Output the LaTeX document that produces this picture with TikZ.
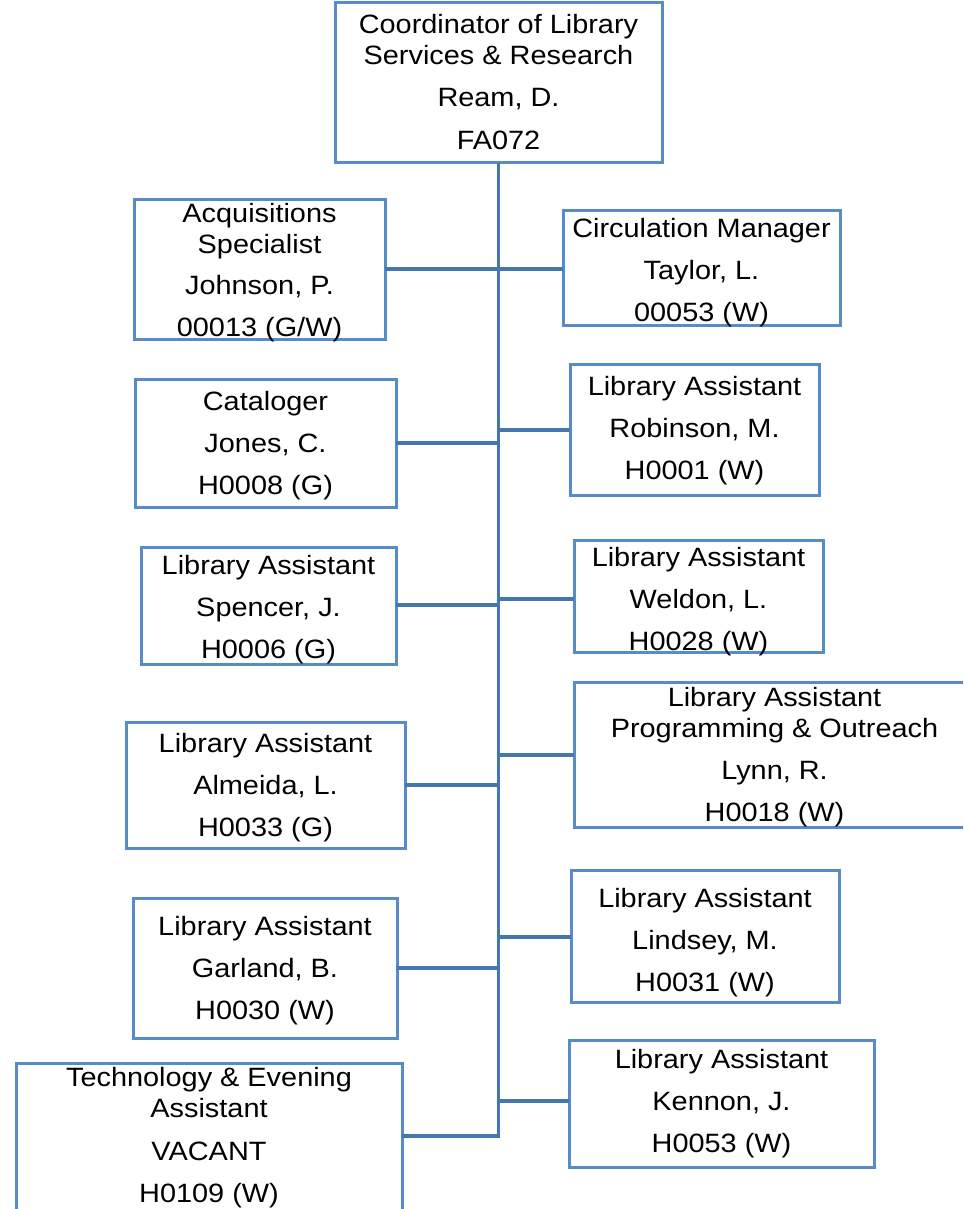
\documentclass[tikz,border=0pt]{standalone}
\usepackage{fontspec}
\setmainfont{Liberation Sans}[FakeStretch=1.09]
\begin{document}
\begin{tikzpicture}[x=1pt,y=-1pt,
  box/.style={draw=boxblue, line width=3pt, inner sep=0pt, outer sep=0pt, rectangle},
  txt/.style={inner sep=0pt, outer sep=0pt, align=center, anchor=base, text=black,
    font=\fontsize{26.5pt}{30.5pt}\selectfont},
  link/.style={draw=lineblue, line width=3.2pt}]
\definecolor{boxblue}{RGB}{88,140,198}
\definecolor{lineblue}{RGB}{68,118,176}
\useasboundingbox (0,0) rectangle (963,1209);
\clip (0,0) rectangle (963,1209);
\fill[white] (0,0) rectangle (963,1209);
% boxes
\node[box, minimum width=327pt, minimum height=160pt] (top) at (498.5,83) {};
\node[box, minimum width=251pt, minimum height=140pt] (acq) at (259.5,269) {};
\node[box, minimum width=277pt, minimum height=115pt] (circ) at (701.5,267.5) {};
\node[box, minimum width=261pt, minimum height=128pt] (cat) at (265.5,443) {};
\node[box, minimum width=249pt, minimum height=131pt] (rob) at (694.5,429.5) {};
\node[box, minimum width=255pt, minimum height=117pt] (spe) at (268.5,605.5) {};
\node[box, minimum width=249pt, minimum height=112pt] (wel) at (698.5,596) {};
\node[box, minimum width=279pt, minimum height=126pt] (alm) at (265.5,785) {};
\node[box, minimum width=401pt, minimum height=145pt] (lyn) at (774.5,754.5) {};
\node[box, minimum width=264pt, minimum height=140pt] (gar) at (265,968) {};
\node[box, minimum width=268pt, minimum height=132pt] (lin) at (705,936) {};
\node[box, minimum width=386pt, minimum height=167pt] (tec) at (209,1146.5) {};
\node[box, minimum width=305pt, minimum height=127pt] (ken) at (721.5,1103.5) {};
% texts (anchored at the baseline of their last line)
\node[txt] (topT) at (498.5,149.5) {Coordinator of Library\\Services \& Research\\[12pt]Ream, D.\\[12pt]FA072};
\node[txt] (acqT) at (259.5,336) {Acquisitions\\Specialist\\[11pt]Johnson, P.\\[11pt]00013 (G/W)};
\node[txt] (circT) at (701.5,321) {Circulation Manager\\[11.5pt]Taylor, L.\\[11.5pt]00053 (W)};
\node[txt] (catT) at (265.5,494.3) {Cataloger\\[11.5pt]Jones, C.\\[11.5pt]H0008 (G)};
\node[txt] (robT) at (694.5,479) {Library Assistant\\[11.5pt]Robinson, M.\\[11.5pt]H0001 (W)};
\node[txt] (speT) at (268.5,658) {Library Assistant\\[11.5pt]Spencer, J.\\[11.5pt]H0006 (G)};
\node[txt] (welT) at (698.5,650) {Library Assistant\\[11.5pt]Weldon, L.\\[11.5pt]H0028 (W)};
\node[txt] (almT) at (265.5,836) {Library Assistant\\[11.5pt]Almeida, L.\\[11.5pt]H0033 (G)};
\node[txt] (lynT) at (774.5,821) {Library Assistant\\Programming \& Outreach\\[11.5pt]Lynn, R.\\[11.5pt]H0018 (W)};
\node[txt] (garT) at (265,1019.3) {Library Assistant\\[11.5pt]Garland, B.\\[11.5pt]H0030 (W)};
\node[txt] (linT) at (705,991) {Library Assistant\\[11.5pt]Lindsey, M.\\[11.5pt]H0031 (W)};
\node[txt] (tecT) at (209,1202.7) {Technology \& Evening\\Assistant\\[13pt]VACANT\\[11.5pt]H0109 (W)};
\node[txt] (kenT) at (721.5,1152.7) {Library Assistant\\[11.5pt]Kennon, J.\\[11.5pt]H0053 (W)};
% trunk junctions
\coordinate (j1) at (498.5,269);
\coordinate (jcat) at (498.5,443);
\coordinate (jrob) at (498.5,430);
\coordinate (jspe) at (498.5,605);
\coordinate (jwel) at (498.5,599);
\coordinate (jalm) at (498.5,785);
\coordinate (jlyn) at (498.5,755);
\coordinate (jgar) at (498.5,968);
\coordinate (jlin) at (498.5,937);
\coordinate (jken) at (498.5,1101);
\coordinate (jend) at (498.5,1136);
% connectors
\draw[link] (top.south) -- (jend) -- (tec.east |- jend);
\draw[link] (acq.east |- j1) -- (circ.west |- j1);
\draw[link] (cat.east |- jcat) -- (jcat);
\draw[link] (jrob) -- (rob.west |- jrob);
\draw[link] (spe.east |- jspe) -- (jspe);
\draw[link] (jwel) -- (wel.west |- jwel);
\draw[link] (alm.east |- jalm) -- (jalm);
\draw[link] (jlyn) -- (lyn.west |- jlyn);
\draw[link] (gar.east |- jgar) -- (jgar);
\draw[link] (jlin) -- (lin.west |- jlin);
\draw[link] (jken) -- (ken.west |- jken);
\end{tikzpicture}
\end{document}
